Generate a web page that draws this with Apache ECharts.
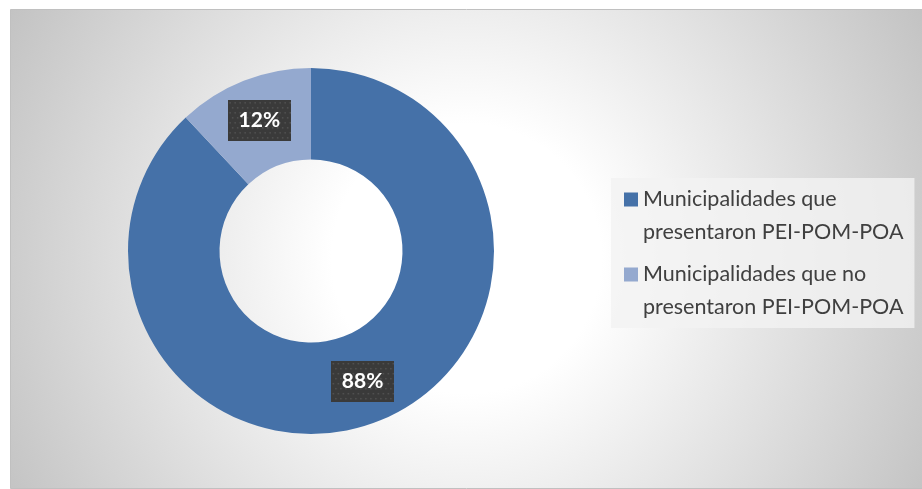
<!DOCTYPE html>
<html>
<head>
<meta charset="utf-8">
<script src="https://cdn.jsdelivr.net/npm/echarts@6/dist/echarts.min.js"></script>
<style>
  html, body { margin: 0; padding: 0; background: #fff; }
  #chart { width: 922px; height: 489px; }
</style>
</head>
<body>
<div id="chart"></div>
<script>
const categories = [
  "Municipalidades que presentaron PEI-POM-POA",
  "Municipalidades que no presentaron PEI-POM-POA",
];
const values = [88, 12];
const legendLabels = [
  "Municipalidades que\npresentaron PEI-POM-POA",
  "Municipalidades que no\npresentaron PEI-POM-POA",
];
const colors = ["#4571a8", "#94a9cf"];

// dotted dark box behind the data labels
function dotBox(w, h) {
  const c = document.createElement("canvas");
  c.width = w;
  c.height = h;
  const ctx = c.getContext("2d");
  ctx.fillStyle = "#3a3a3a";
  ctx.fillRect(0, 0, w, h);
  ctx.fillStyle = "#545454";
  for (let y = 2, row = 0; y < h; y += 5, row++) {
    for (let x = (row % 2) ? 4 : 1.5; x < w; x += 5) {
      ctx.fillRect(x, y, 1.5, 1.5);
    }
  }
  return c;
}

let myChart = echarts.init(document.getElementById("chart"));
myChart.setOption({
  animation: false,
  graphic: [
    {
      type: "rect",
      z: 0,
      shape: { x: 10.5, y: 9.5, width: 912, height: 479 },
      style: {
        fill: new echarts.graphic.RadialGradient(0.5, 0.52, 1.08, [
          { offset: 0, color: "#ffffff" },
          { offset: 0.26, color: "#ffffff" },
          { offset: 1, color: "#c3c3c3" },
        ]),
        stroke: "#c0c0c0",
        lineWidth: 1,
      },
    },
  ],
  legend: {
    orient: "vertical",
    left: 611,
    top: 178,
    padding: [5, 11, 4, 13],
    itemGap: 9,
    itemWidth: 14,
    itemHeight: 66,
    // square sits at the first text line
    icon: "path://M0,0M0,66M0,9.5L14,9.5L14,23.5L0,23.5Z",
    backgroundColor: "rgba(243,243,243,0.8)",
    data: categories,
    formatter: function (name) {
      return legendLabels[categories.indexOf(name)];
    },
    textStyle: {
      color: "#404040",
      fontSize: 21.5,
      fontFamily: "Lato",
      lineHeight: 33,
    },
  },
  series: [
    {
      type: "pie",
      center: [311, 251],
      radius: [91.5, 183],
      startAngle: 90,
      clockwise: true,
      avoidLabelOverlap: false,
      emphasis: { disabled: true },
      itemStyle: { borderWidth: 0 },
      label: {
        show: true,
        position: "inside",
        formatter: "{d}%",
        color: "#fff",
        fontSize: 21,
        fontWeight: "bold",
        fontFamily: "Lato",
        width: 41,
        overflow: "none",
        align: "center",
        lineHeight: 23,
        padding: [9, 11],
        backgroundColor: { image: dotBox(63, 41) },
        shadowColor: "rgba(0,0,0,0.45)",
        shadowBlur: 5,
        shadowOffsetX: 2,
        shadowOffsetY: 3,
      },
      labelLine: { show: false },
      data: categories.map((name, i) => ({
        name: name,
        value: values[i],
        itemStyle: { color: colors[i] },
      })),
    },
  ],
});
</script>
</body>
</html>
